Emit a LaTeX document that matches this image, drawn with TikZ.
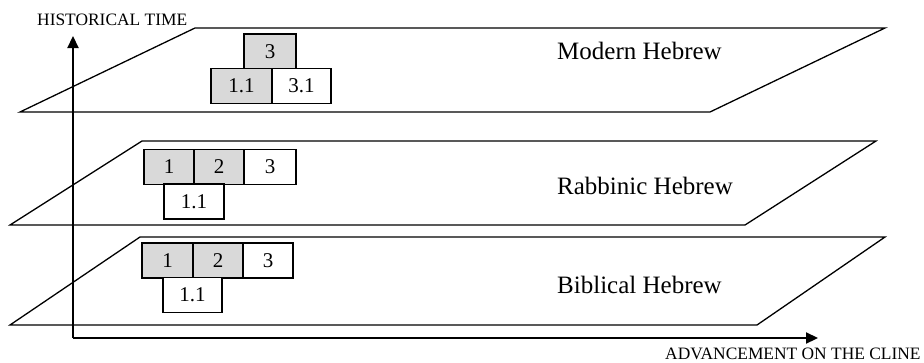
\documentclass[tikz,border=0pt]{standalone}
\usepackage{fontspec}
\setmainfont{Liberation Serif}
\usetikzlibrary{arrows.meta}
\begin{document}
\begin{tikzpicture}[x=1pt,y=-1pt,
  plane/.style={draw=black,line width=1.3pt,line join=miter},
  cell/.style={draw=black,line width=1.2pt,inner sep=0pt,minimum height=35pt,font=\fontsize{21}{21}\selectfont},
  shaded/.style={cell,fill=gray!30},
  plain/.style={cell,fill=white},
  axis/.style={line width=2.2pt,-{Triangle[length=12pt,width=11pt]}},
  lvl/.style={anchor=base west,inner sep=0pt,font=\fontsize{25}{25}\selectfont},
  axlbl/.style={anchor=base west,inner sep=0pt,font=\fontsize{17.4}{17.4}\selectfont}]
\useasboundingbox (0,0) rectangle (924,362);
% planes
\draw[plane] (20,112) -- (195,28) -- (885,28) -- (710,112) -- cycle;
\draw[plane] (10,225) -- (142,141) -- (876,141) -- (745,225) -- cycle;
\draw[plane] (10,325) -- (140,237) -- (885,237) -- (757,325) -- cycle;
% top layer boxes
\node[shaded,minimum width=52pt] (m3) at (270,51.5) {3};
\node[shaded,minimum width=61pt] (m11) at (241.5,86) {1.1};
\node[plain,minimum width=59pt] (m31) at (301.5,86) {3.1};
% middle layer boxes
\node[shaded,minimum width=50pt] (r1) at (169,167) {1};
\node[shaded,minimum width=50pt] (r2) at (219,167) {2};
\node[plain,minimum width=52pt] (r3) at (270,167) {3};
\node[plain,minimum width=60pt] (r11) at (194,201.5) {1.1};
% bottom layer boxes
\node[shaded,minimum width=51pt] (b1) at (167.5,260.5) {1};
\node[shaded,minimum width=50pt] (b2) at (218,260.5) {2};
\node[plain,minimum width=50pt] (b3) at (268,260.5) {3};
\node[plain,minimum width=59pt] (b11) at (192.5,295) {1.1};
% level labels
\node[lvl] (lm) at (557,59) {Modern Hebrew};
\node[lvl] (lr) at (557,194) {Rabbinic Hebrew};
\node[lvl] (lb) at (557,293) {Biblical Hebrew};
% axes
\coordinate (O) at (73,338);
\coordinate (Y) at (73,36);
\coordinate (X) at (818,338);
\draw[axis] (O) -- (Y);
\draw[axis] (O) -- (X);
\node[axlbl] (yl) at (37,25) {HISTORICAL TIME};
\node[axlbl] (xl) at (665,359) {ADVANCEMENT ON THE CLINE};
\end{tikzpicture}
\end{document}
